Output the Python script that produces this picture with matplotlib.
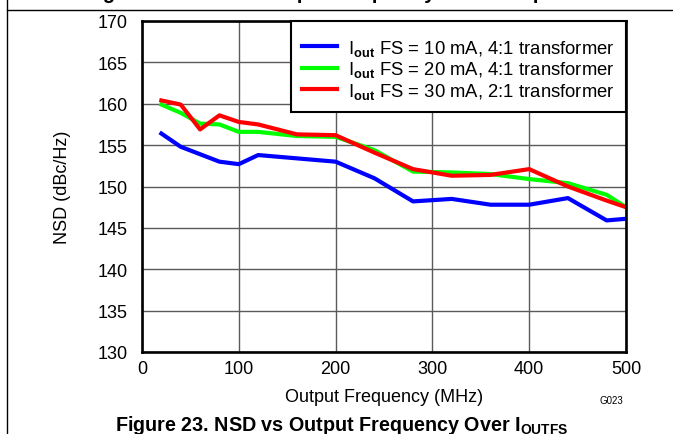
import matplotlib
matplotlib.use("Agg")
import matplotlib.pyplot as plt
from matplotlib.lines import Line2D

plt.rcParams['font.family'] = ['Liberation Sans', 'DejaVu Sans']
plt.rcParams['mathtext.fontset'] = 'custom'
plt.rcParams['mathtext.rm'] = 'Liberation Sans'
plt.rcParams['mathtext.bf'] = 'Liberation Sans:bold'
plt.rcParams['mathtext.it'] = 'Liberation Sans:italic'

# data
freq_mhz = [20, 40, 60, 80, 100, 120, 160, 200, 240, 280, 320, 360, 400, 440, 480, 500]
nsd_10ma = [156.4, 154.8, 153.9, 153.0, 152.7, 153.8, 153.4, 153.0, 151.0, 148.2,
            148.5, 147.8, 147.8, 148.6, 145.9, 146.1]
nsd_20ma = [159.9, 158.9, 157.6, 157.5, 156.6, 156.6, 156.1, 156.0, 154.4, 151.8,
            151.7, 151.5, 150.9, 150.4, 149.0, 147.5]
nsd_30ma = [160.4, 159.9, 156.9, 158.6, 157.8, 157.5, 156.3, 156.2, 154.1, 152.1,
            151.3, 151.4, 152.1, 150.0, 148.3, 147.5]
labels = [r"I$_\mathbf{out}$ FS = 10 mA, 4:1 transformer",
          r"I$_\mathbf{out}$ FS = 20 mA, 4:1 transformer",
          r"I$_\mathbf{out}$ FS = 30 mA, 2:1 transformer"]
colors = ["#0000ff", "#00ff00", "#ff0000"]
x_ticks = [0, 100, 200, 300, 400, 500]
y_ticks = [130, 135, 140, 145, 150, 155, 160, 165, 170]

W, H = 673, 435
fig = plt.figure(figsize=(W / 100, H / 100), dpi=100)
ax = fig.add_axes([142 / W, 1 - 353 / H, (626 - 142) / W, (353 - 22) / H])

for series, color, label in zip([nsd_10ma, nsd_20ma, nsd_30ma], colors, labels):
    ax.plot(freq_mhz, series, color=color, linewidth=3.0, label=label, zorder=3)

ax.set_xlim(0, 500)
ax.set_ylim(130, 170)
ax.set_xticks(x_ticks)
ax.set_yticks(y_ticks)
ax.tick_params(length=0, labelsize=13)
ax.tick_params(axis='y', pad=10)
ax.tick_params(axis='x', pad=6)
ax.grid(True, color='#5a5a5a', linewidth=1.0)
for s in ax.spines.values():
    s.set_linewidth(1.9)
    s.set_zorder(4)

ax.set_xlabel("Output Frequency (MHz)", fontsize=13, labelpad=8)
ax.set_ylabel("NSD (dBc/Hz)", fontsize=13, labelpad=19)

# blank tiny title just adds a little space above the first entry
leg = ax.legend(loc='upper right', fontsize=13.3, fancybox=False, borderaxespad=0,
                handlelength=1.9, handletextpad=0.6, labelspacing=0.08, borderpad=0.6,
                framealpha=1, title=" ", title_fontsize=2.5)
leg.get_frame().set_edgecolor('black')
leg.get_frame().set_linewidth(1.5)
leg.set_zorder(5)

# page frame lines and cropped captions
fig.add_artist(Line2D([7 / W, 7 / W], [0, 1], color='black', linewidth=1.0))
fig.add_artist(Line2D([7 / W, 1], [1 - 11 / H, 1 - 11 / H], color='black', linewidth=1.0))
fig.text(349 / W, 1 + 1.5 / H, "Figure 22. NSD vs Output Frequency Over Temperature",
         ha='center', va='baseline', fontsize=14.5, fontweight='bold')
fig.text(623 / W, 1 - 401 / H, "G023", ha='right', va='center', fontsize=7)
fig.text(342 / W, 1 - 431 / H, r"Figure 23. NSD vs Output Frequency Over I$_\mathbf{OUTFS}$",
         ha='center', va='baseline', fontsize=14.2, fontweight='bold')

fig.savefig("out.png", dpi=100)
